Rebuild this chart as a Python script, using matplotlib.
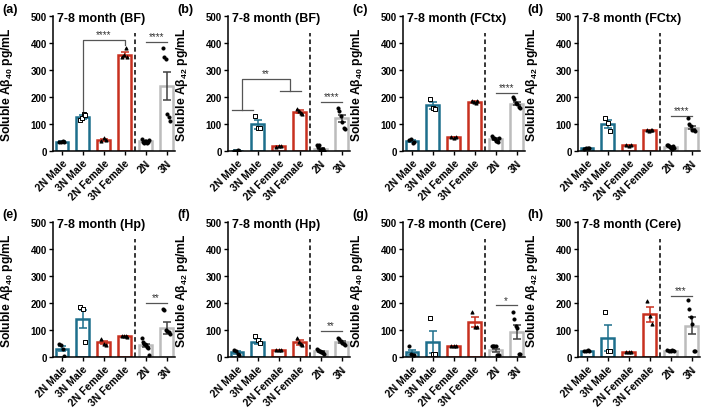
import numpy as np
import matplotlib
matplotlib.use("Agg")
import matplotlib.pyplot as plt

plt.rcParams["font.family"] = ["Liberation Sans", "DejaVu Sans"]
plt.rcParams["mathtext.fontset"] = "custom"
plt.rcParams["mathtext.rm"] = "Liberation Sans:bold"
plt.rcParams["mathtext.it"] = "Liberation Sans:bold"
plt.rcParams["mathtext.bf"] = "Liberation Sans:bold"

groups = ["2N Male", "3N Male", "2N Female", "3N Female", "2N", "3N"]
titles = ["7-8 month (BF)", "7-8 month (BF)", "7-8 month (FCtx)", "7-8 month (FCtx)",
          "7-8 month (Hp)", "7-8 month (Hp)", "7-8 month (Cere)", "7-8 month (Cere)"]
peptides = ["40", "42", "40", "42", "40", "42", "40", "42"]
panel_tags = ["(a)", "(b)", "(c)", "(d)", "(e)", "(f)", "(g)", "(h)"]

# bar means and SEM, per panel
means_a = [35, 128, 43, 358, 37, 243]
sems_a = [2, 8, 4, 10, 3, 52]
means_b = [2, 100, 18, 147, 10, 122]
sems_b = [1, 17, 2, 5, 3, 13]
means_c = [38, 170, 52, 183, 45, 177]
sems_c = [3, 12, 1, 2, 3, 6]
means_d = [12, 100, 22, 78, 17, 88]
sems_d = [1, 15, 1, 1, 2, 7]
means_e = [32, 142, 55, 78, 45, 110]
sems_e = [10, 33, 7, 1, 6, 22]
means_f = [18, 58, 27, 55, 22, 57]
sems_f = [5, 10, 1, 9, 3, 5]
means_g = [18, 56, 42, 132, 26, 93]
sems_g = [8, 41, 1, 18, 6, 26]
means_h = [24, 72, 20, 160, 24, 117]
sems_h = [1, 48, 1, 28, 2, 32]

# individual animals, per panel
pts_a = [[33, 36, 38, 34], [115, 125, 140, 135], [40, 48, 42], [348, 355, 382, 350],
         [45, 35, 32, 38, 40, 30, 36, 42], [381, 348, 342, 138, 126, 111]]
pts_b = [[1, 2, 3, 2], [130, 88, 88], [16, 20, 18], [155, 150, 142, 140],
         [22, 15, 25, 5, 3, 8, 10, 2], [159, 150, 132, 107, 85, 83]]
pts_c = [[42, 45, 32, 35], [195, 160, 158], [53, 51, 53], [185, 183, 180, 186],
         [55, 50, 48, 45, 40, 38, 35, 48], [200, 192, 180, 175, 165, 160]]
pts_d = [[10, 12, 14, 12], [125, 105, 75], [22, 21, 23], [78, 77, 79, 78],
         [25, 22, 18, 15, 12, 10, 20, 14], [122, 100, 92, 80, 78, 75]]
pts_e = [[50, 47, 29, 6], [188, 180, 55], [68, 50, 47], [80, 78, 79, 76],
         [72, 55, 50, 48, 45, 40, 35, 10], [180, 174, 100, 97, 95, 85]]
pts_f = [[26, 24, 12, 10], [80, 65, 52], [27, 28, 26], [72, 58, 50, 45],
         [30, 28, 25, 22, 20, 18, 15, 12], [72, 68, 60, 52, 48, 45]]
pts_g = [[42, 12, 9, 9], [144, 12, 12], [42, 42, 41], [169, 113, 113],
         [42, 42, 42, 42, 10, 10, 10], [167, 141, 117, 110, 12, 12]]
pts_h = [[25, 24, 26, 24], [166, 25, 25], [20, 21, 19], [209, 154, 122],
         [27, 25, 24, 26, 23], [214, 179, 149, 122, 23, 23]]

# 2N vs 3N comparison: (bar height, stars)
sig_a = (404, "****")
sig_b = (184, "****")
sig_c = (216, "****")
sig_d = (132, "****")
sig_e = (201, "**")
sig_f = (99, "**")
sig_g = (192, "*")
sig_h = (228, "***")

all_means = [means_a, means_b, means_c, means_d, means_e, means_f, means_g, means_h]
all_sems = [sems_a, sems_b, sems_c, sems_d, sems_e, sems_f, sems_g, sems_h]
all_pts = [pts_a, pts_b, pts_c, pts_d, pts_e, pts_f, pts_g, pts_h]
all_sig = [sig_a, sig_b, sig_c, sig_d, sig_e, sig_f, sig_g, sig_h]

teal = "#1d6f8c"
red = "#c8301f"
grey = "#bcbcbc"
bar_cols = [teal, teal, red, red, grey, grey]
err_cols = [teal, teal, red, red, "#404040", "#404040"]
markers = ["o", "s", "^", "^", "o", "o"]
faces = ["k", "white", "k", "k", "k", "k"]
brk = "#555555"

W, H = 709, 410
fig = plt.figure(figsize=(W / 100, H / 100), dpi=100)
lefts = [53, 228, 403, 578]
zeros = [152.3, 358.3]
x = np.arange(6)

for i in range(8):
    r, c = divmod(i, 4)
    ax = fig.add_axes([lefts[c] / W, 1 - zeros[r] / H, 122 / W, 135 / H])
    ax.bar(x, all_means[i], width=0.6, color="white", edgecolor=bar_cols,
           linewidth=1.8, zorder=2)
    for j in range(6):
        ax.errorbar(x[j], all_means[i][j], yerr=all_sems[i][j], fmt="none",
                    ecolor=err_cols[j], elinewidth=1.1, capsize=3, capthick=1.1, zorder=3)
        p = all_pts[i][j]
        spread = 0.17 if j >= 4 else 0.12
        xs = x[j] + np.linspace(-spread, spread, len(p))
        ax.scatter(xs, p, s=5 if markers[j] != "s" else 7, marker=markers[j],
                   facecolor=faces[j], edgecolor="k", linewidth=0.7, zorder=4)

    ax.plot([3.5, 3.5], [0, 440], color="k", lw=1.1, ls=(0, (3, 2)), zorder=1)

    y, stars = all_sig[i]
    ax.plot([4, 5], [y, y], color=brk, lw=0.9)
    ax.text(4.5, y + 3, stars, ha="center", va="bottom", fontsize=7, color="#333333")

    if i == 0:
        ax.plot([1, 1, 3, 3], [150, 413, 413, 394], color=brk, lw=0.9)
        ax.text(2, 416, "****", ha="center", va="bottom", fontsize=7, color="#333333")
    if i == 1:
        ax.plot([-0.25, 0.75], [154, 154], color=brk, lw=0.9)
        ax.plot([2.05, 3.05], [222, 222], color=brk, lw=0.9)
        ax.plot([0.25, 0.25, 2.55, 2.55], [154, 268, 268, 222], color=brk, lw=0.9)
        ax.text(1.4, 271, "**", ha="center", va="bottom", fontsize=7, color="#333333")

    ax.set_xlim(-0.42, 5.4)
    ax.set_ylim(0, 500)
    ax.set_yticks([0, 100, 200, 300, 400, 500])
    ax.set_xticks(x)
    ax.set_xticklabels(groups, rotation=45, ha="right", rotation_mode="anchor",
                       fontsize=7.5, fontweight="bold")
    for lab in ax.get_yticklabels():
        lab.set_fontweight("bold")
    ax.tick_params(axis="y", labelsize=7, length=3, width=1, pad=1.5)
    ax.tick_params(axis="x", length=3, width=1, pad=1.5)
    for s in ["top", "right"]:
        ax.spines[s].set_visible(False)
    for s in ["left", "bottom"]:
        ax.spines[s].set_linewidth(1.1)
    ax.set_ylabel("Soluble A\u03b2$_{" + peptides[i] + "}$ pg/mL", fontsize=8.7,
                  fontweight="bold")
    ax.yaxis.set_label_coords(-0.31, 0.5)
    ax.text(0.03, 0.985, titles[i], transform=ax.transAxes, fontsize=9,
            fontweight="bold", ha="left", va="center")
    fig.text((lefts[c] - 51) / W, 1 - (10 + r * 205) / H, panel_tags[i], fontsize=9,
             fontweight="bold", ha="left", va="center")

fig.savefig("out.png", dpi=100)
